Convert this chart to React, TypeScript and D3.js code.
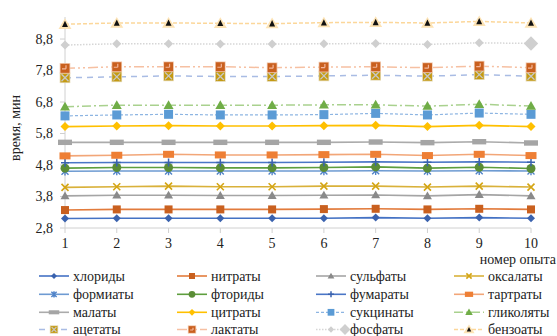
import React from "react";
import * as d3 from "d3";

const categories = ["1", "2", "3", "4", "5", "6", "7", "8", "9", "10"];
const yTicks = [2.8, 3.8, 4.8, 5.8, 6.8, 7.8, 8.8];
const seriesNames = [
  "хлориды", "нитраты", "сульфаты", "оксалаты",
  "формиаты", "фториды", "фумараты", "тартраты",
  "малаты", "цитраты", "сукцинаты", "гликоляты",
  "ацетаты", "лактаты", "фосфаты", "бензоаты",
];
const chlorides = [3.10, 3.11, 3.11, 3.11, 3.11, 3.11, 3.13, 3.11, 3.13, 3.11];
const nitrates = [3.37, 3.39, 3.39, 3.39, 3.39, 3.40, 3.41, 3.39, 3.41, 3.39];
const sulfates = [3.82, 3.84, 3.84, 3.83, 3.83, 3.84, 3.85, 3.82, 3.86, 3.82];
const oxalates = [4.09, 4.11, 4.13, 4.11, 4.11, 4.13, 4.13, 4.10, 4.13, 4.10];
const formates = [4.60, 4.61, 4.61, 4.61, 4.61, 4.61, 4.62, 4.61, 4.62, 4.61];
const fluorides = [4.70, 4.72, 4.72, 4.71, 4.71, 4.72, 4.74, 4.70, 4.73, 4.69];
const fumarates = [4.87, 4.88, 4.88, 4.88, 4.88, 4.89, 4.90, 4.89, 4.90, 4.89];
const tartrates = [5.09, 5.11, 5.14, 5.12, 5.12, 5.13, 5.14, 5.10, 5.14, 5.10];
const malates = [5.52, 5.52, 5.52, 5.52, 5.52, 5.52, 5.53, 5.51, 5.54, 5.50];
const citrates = [6.02, 6.04, 6.05, 6.04, 6.04, 6.05, 6.06, 6.02, 6.06, 6.02];
const succinates = [6.36, 6.39, 6.41, 6.39, 6.39, 6.40, 6.44, 6.39, 6.45, 6.41];
const glycolates = [6.65, 6.70, 6.70, 6.70, 6.70, 6.71, 6.71, 6.67, 6.73, 6.67];
const acetates = [7.57, 7.60, 7.63, 7.61, 7.61, 7.63, 7.65, 7.62, 7.67, 7.62];
const lactates = [7.87, 7.92, 7.92, 7.92, 7.89, 7.91, 7.92, 7.89, 7.94, 7.89];
const phosphates = [8.61, 8.65, 8.65, 8.64, 8.64, 8.65, 8.66, 8.63, 8.68, 8.66];
const benzoates = [9.27, 9.31, 9.31, 9.30, 9.29, 9.32, 9.33, 9.31, 9.36, 9.31];

const seriesValues = [
  chlorides, nitrates, sulfates, oxalates,
  formates, fluorides, fumarates, tartrates,
  malates, citrates, succinates, glycolates,
  acetates, lactates, phosphates, benzoates,
];

type Style = {
  line: string;
  width: number;
  dash?: string;
  marker: string;
  fill: string;
  r: number;
};

const styles: Style[] = [
  { line: "#4472C4", width: 1.6, marker: "diamond", fill: "#3A62AE", r: 4 },
  { line: "#E27B3C", width: 1.6, marker: "square", fill: "#C9601F", r: 4 },
  { line: "#A5A5A5", width: 1.6, marker: "triangle", fill: "#8A8A8A", r: 4.5 },
  { line: "#D9B13A", width: 1.6, marker: "x", fill: "#D4A514", r: 3.5 },
  { line: "#6E9BD2", width: 1.6, marker: "asterisk", fill: "#4F82C8", r: 3.5 },
  { line: "#5E9E3E", width: 1.6, marker: "circle", fill: "#5B8D36", r: 4.5 },
  { line: "#4A76C6", width: 1.6, marker: "plus", fill: "#3A62AE", r: 4 },
  { line: "#F2A678", width: 1.6, marker: "rectTart", fill: "#EE7F35", r: 4 },
  { line: "#ABABAB", width: 1.6, marker: "rectMal", fill: "#A5A5A5", r: 4 },
  { line: "#FFC000", width: 1.6, marker: "diamond", fill: "#FFC000", r: 4.5 },
  { line: "#8DB5E2", width: 1.2, dash: "3,2", marker: "square", fill: "#5B9BD5", r: 4.5 },
  { line: "#A9D18E", width: 1.5, dash: "9,3,2,3", marker: "triangle", fill: "#70AD47", r: 5 },
  { line: "#A9BCE4", width: 1.5, dash: "6,5", marker: "squareX", fill: "#C49A12", r: 4.5 },
  { line: "#F6C0A2", width: 1.5, dash: "10,3,2,3,2,3", marker: "squarePlus", fill: "#C9601F", r: 4.5 },
  { line: "#D6D6D6", width: 1.5, dash: "1.5,1.5", marker: "diamond", fill: "#CFCFCF", r: 4.5 },
  { line: "#FCD79A", width: 1.5, dash: "4,2", marker: "triBenz", fill: "#111111", r: 3.5 },
];

function Marker({ type, x, y, st, scale = 1, big = false }: any) {
  const r = st.r * scale * (big ? 1.6 : 1);
  const f = st.fill;
  switch (type) {
    case "diamond":
      return <path d={`M${x},${y - r}L${x + r},${y}L${x},${y + r}L${x - r},${y}Z`} fill={f} />;
    case "square":
      return <rect x={x - r} y={y - r} width={2 * r} height={2 * r} fill={f} />;
    case "triangle":
      return <path d={`M${x},${y - r}L${x + r},${y + r * 0.75}L${x - r},${y + r * 0.75}Z`} fill={f} />;
    case "x":
      return (
        <path d={`M${x - r},${y - r}L${x + r},${y + r}M${x - r},${y + r}L${x + r},${y - r}`} stroke={f} strokeWidth={1.6} />
      );
    case "asterisk":
      return (
        <path
          d={`M${x - r},${y - r}L${x + r},${y + r}M${x - r},${y + r}L${x + r},${y - r}M${x},${y - r * 1.2}L${x},${y + r * 1.2}`}
          stroke={f}
          strokeWidth={1.4}
        />
      );
    case "circle":
      return <circle cx={x} cy={y} r={r} fill={f} />;
    case "plus":
      return <path d={`M${x - r},${y}L${x + r},${y}M${x},${y - r}L${x},${y + r}`} stroke={f} strokeWidth={1.5} />;
    case "rectTart":
      return <rect x={x - 5.5 * scale} y={y - 3.5 * scale} width={11 * scale} height={7 * scale} fill={f} />;
    case "rectMal":
      return <rect x={x - 7 * scale} y={y - 2.7 * scale} width={14 * scale} height={5.4 * scale} fill={f} />;
    case "squareX":
      return (
        <g>
          <rect x={x - r - 0.8} y={y - r - 0.8} width={2 * r + 1.6} height={2 * r + 1.6} fill="#E3D7B0" />
          <rect x={x - r} y={y - r} width={2 * r} height={2 * r} fill={f} />
          <path
            d={`M${x - r + 1},${y - r + 1}L${x + r - 1},${y + r - 1}M${x - r + 1},${y + r - 1}L${x + r - 1},${y - r + 1}`}
            stroke="#C8C8C8"
            strokeWidth={1.3}
          />
        </g>
      );
    case "squarePlus":
      return (
        <g>
          <rect x={x - r - 0.8} y={y - r - 0.8} width={2 * r + 1.6} height={2 * r + 1.6} fill="#F2C9AE" />
          <rect x={x - r} y={y - r} width={2 * r} height={2 * r} fill={f} />
          <path d={`M${x - r + 1.5},${y + 0.5}L${x + 1},${y + 0.5}M${x + 1},${y - r + 1.5}L${x + 1},${y + 0.5}`} stroke="#F4B69A" strokeWidth={1.2} />
        </g>
      );
    case "triBenz":
      return (
        <g>
          <path d={`M${x},${y - r - 2.5}L${x + r + 3},${y + r + 1.2}L${x - r - 3},${y + r + 1.2}Z`} fill="#FDE3B4" />
          <path d={`M${x},${y - r}L${x + r * 0.85},${y + r * 0.8}L${x - r * 0.85},${y + r * 0.8}Z`} fill={f} />
        </g>
      );
    default:
      return null;
  }
}

const FONT = "Liberation Serif";

function T(props: any) {
  const { children, ...rest } = props;
  return (
    <text {...rest} fontFamily={FONT} style={{ fontFamily: FONT, fontSize: 14 }} fill="#222">
      {children}
    </text>
  );
}

export default function App() {
  const W = 557;
  const H = 336;
  const x = d3.scalePoint<string>().domain(categories).range([65, 531]);
  const y = d3.scaleLinear().domain([2.8, 9.5]).range([228, 17]);
  const fmt = (v: number) => d3.format(".1f")(v).replace(".", ",");
  const line = d3
    .line<number>()
    .x((_, i) => x(categories[i]) as number)
    .y((v) => y(v));

  const legendCols = [39, 177, 316, 454];
  const legendRows = [276, 294.3, 312.3, 329.5];

  return (
    <svg width={W} height={H} style={{ position: "absolute", left: 0, top: 0, background: "#fff" }}>
      {/* axes */}
      <line x1={65} x2={65} y1={y(9.5)} y2={y(2.8)} stroke="#D0D0D0" strokeWidth={1} />
      {yTicks.map((t) => (
        <g key={t}>
          <line x1={60} x2={65} y1={y(t)} y2={y(t)} stroke="#D0D0D0" />
          <T x={53} y={y(t)} dy="0.35em" textAnchor="end">
            {fmt(t)}
          </T>
        </g>
      ))}
      <line x1={65} x2={531} y1={y(2.8)} y2={y(2.8)} stroke="#D0D0D0" />
      {categories.map((c) => (
        <g key={c}>
          <line x1={x(c)} x2={x(c)} y1={y(2.8)} y2={y(2.8) + 5} stroke="#D0D0D0" />
          <T x={x(c)} y={243} dy="0.35em" textAnchor="middle">
            {c}
          </T>
        </g>
      ))}
      <T x={556} y={259} dy="0.35em" textAnchor="end">
        номер опыта
      </T>
      <T transform="translate(15,128) rotate(-90)" textAnchor="middle" dy="0.35em">
        время, мин
      </T>

      {/* series */}
      {seriesValues.map((vals, si) => {
        const st = styles[si];
        return (
          <g key={si}>
            <path
              d={line(vals) || ""}
              fill="none"
              stroke={st.line}
              strokeWidth={st.width}
              strokeDasharray={st.dash}
            />
            {vals.map((v, i) => (
              <Marker
                key={i}
                type={st.marker}
                x={x(categories[i])}
                y={y(v)}
                st={st}
                big={si === 14 && i === vals.length - 1}
              />
            ))}
          </g>
        );
      })}

      {/* legend */}
      {seriesNames.map((name, si) => {
        const st = styles[si];
        const col = si % 4;
        const row = Math.floor(si / 4);
        const lx = legendCols[col];
        const ly = legendRows[row];
        const isPhos = si === 14;
        return (
          <g key={name}>
            <line
              x1={lx}
              x2={lx + 30}
              y1={ly}
              y2={ly}
              stroke={st.line}
              strokeWidth={st.width}
              strokeDasharray={st.dash}
            />
            {isPhos ? (
              <g>
                <Marker type={st.marker} x={lx + 15} y={ly} st={st} scale={0.7} />
                <Marker type={st.marker} x={lx + 29} y={ly} st={st} scale={0.75} big />
              </g>
            ) : (
              <Marker type={st.marker} x={lx + 15} y={ly} st={st} scale={0.75} />
            )}
            <T x={lx + 34} y={ly} dy="0.35em">
              {name}
            </T>
          </g>
        );
      })}
    </svg>
  );
}
